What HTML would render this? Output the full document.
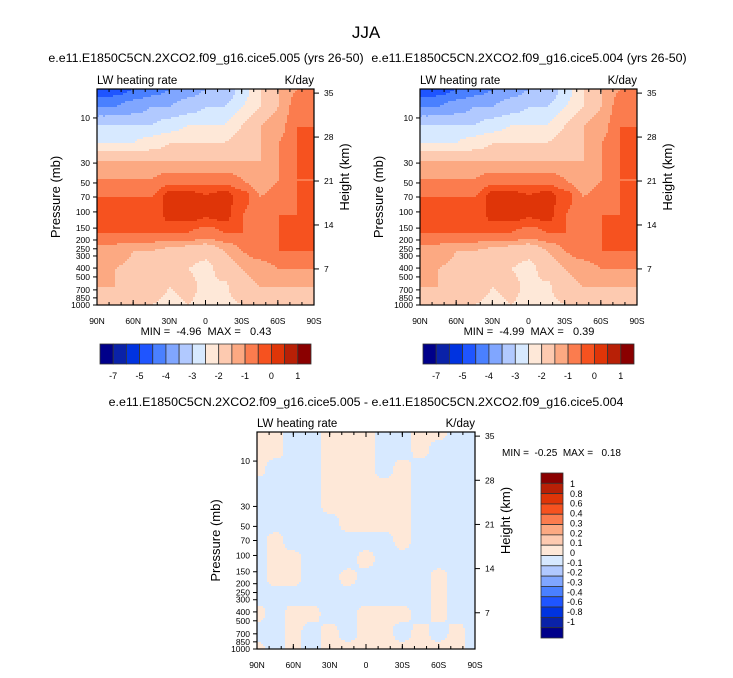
<!DOCTYPE html>
<html><head><meta charset="utf-8">
<style>
body{margin:0;background:#fff;font-family:"Liberation Sans",sans-serif;}
svg text{font-family:"Liberation Sans",sans-serif;fill:#000;}
</style></head>
<body>
<svg id="chart" width="733" height="673" viewBox="0 0 733 673" xmlns="http://www.w3.org/2000/svg">
<rect width="733" height="673" fill="#fff"/>
<text x="366" y="38" font-size="17" text-anchor="middle">JJA</text>
<g id="root"></g>
</svg>
<script>
// ---- data ----
const latLabels = ["90N","60N","30N","0","30S","60S","90S"];
const presLabels = ["10","30","50","70","100","150","200","250","300","400","500","700","850","1000"];
const presValues = [10,30,50,70,100,150,200,250,300,400,500,700,850,1000];
const heightLabels = ["35","28","21","14","7"];
const heightValues = [35,28,21,14,7];
const gridLat = [90,75,60,45,30,15,0,-15,-30,-45,-60,-75,-90];
const gridRowFrac = [0,0.083,0.167,0.25,0.333,0.417,0.5,0.583,0.667,0.75,0.833,0.917,1];
// level-index field (colour band index, fractional) case 005
const lw005 = [
[3,3.5,4,4.5,5,5.5,6,6,7.5,9,10,11,11],
[5,5,5.5,6,6,6.5,7,7,8,9,10,11.5,12],
[7,7,7,7,7.5,8,8,8,9,10,10.5,12,12],
[8,8,8,8.5,9,9,9,9,9.5,10,11,12,12],
[10,10,10,10,10,10,10,10,10,10,11,12,12],
[11,11,11,11,11.5,11.5,11.5,11.5,11,10,11,12,12],
[12,12,12,12,13.4,13.5,13.1,13.5,12.5,11,11.5,12,12],
[12,12,12,12,13.4,13.5,13.1,13.4,12,11.2,12,12,12],
[12,12,12,12,12,12,11.5,12,12,12,12,12,12],
[10.5,10.5,10,10,9.8,9.5,9.2,10,11,11.5,12,12,12],
[10,10,9.8,9.5,9.2,9,8.8,9.3,10,10.5,11,11,11],
[10,10,9.8,9.5,9,9.2,8.8,8.9,9.5,10,10,10,10],
[9.5,9.5,9.2,9,8.8,9,8.8,8.8,9,9.2,9.3,9.5,9.5]];
const lw004 = [
[3,3.5,4,4.5,5,5.5,6,6,7.5,9,10,11,11],
[5,5,5.5,6,6,6.5,7,7,8,9,10,11.5,12],
[7,7,7,7,7.5,8,8,8,9,10,10.5,12,12],
[8,8,8,8.5,9,9,9,9,9.5,10,11,12,12],
[10,10,10,10,10,10,10,10,10,10,11,12,12],
[11,11,11,11,11.5,11.5,11.5,11.5,11,10,11,12,12],
[12,12,12,12,13.4,13.5,13.1,13.5,12.5,11,11.5,12,12],
[12,12,12,12,13.4,13.5,13.1,13.4,12,11.2,12,12,12],
[12,12,12,12,12,12,11.5,12,12,12,12,12,12],
[10.5,10.5,10,10,9.8,9.5,9.2,10,11,11.5,12,12,12],
[10,10,9.8,9.5,9.2,9,8.8,9.3,10,10.5,11,11,11],
[10,10,9.8,9.5,9,9.2,8.8,8.9,9.5,10,10,10,10],
[9.5,9.5,9.2,9,8.8,9,8.8,8.8,9,9.2,9.3,9.5,9.5]];
// difference field (K/day)
const diffField = [
[.05,.05,-.06,-.06,.05,.05,.05,-.06,-.06,.05,.05,-.06,-.06],
[.05,.05,-.06,-.06,.05,.05,.05,-.06,-.06,.05,-.06,-.06,-.06],
[.05,-.06,-.06,-.06,.05,.05,.05,-.06,.05,-.06,-.06,-.06,-.06],
[-.06,-.06,-.06,-.06,.05,.05,.05,.05,.05,-.06,-.06,-.06,-.06],
[-.06,-.06,-.06,-.06,.05,.05,.05,.05,.05,-.06,-.06,-.06,-.06],
[-.06,-.06,-.06,-.06,-.06,.05,.05,.05,.05,-.06,-.06,-.06,-.06],
[-.06,.05,-.06,-.06,-.06,-.06,-.06,-.06,.05,-.06,-.06,-.06,-.06],
[-.06,.05,.05,-.06,-.06,-.06,.05,-.06,-.06,-.06,-.06,-.06,-.06],
[-.06,.05,.05,-.06,-.06,.05,-.06,-.06,-.06,-.06,.05,-.06,-.06],
[-.06,-.06,-.06,-.06,-.06,-.06,-.06,-.06,-.06,-.06,.05,-.06,-.06],
[.05,-.06,.05,.05,-.06,-.06,.05,.05,.05,-.06,.05,-.06,-.06],
[-.06,-.06,.05,-.06,.05,-.06,.05,.05,-.06,.05,-.06,.05,-.06],
[.05,-.06,.05,-.06,.05,.05,.05,.05,.05,.05,.05,.05,-.06]];
const topCbarLabels = ["-7","-5","-4","-3","-2","-1","0","1"];
const diffLevels = [-1,-0.8,-0.6,-0.4,-0.3,-0.2,-0.1,0,0.1,0.2,0.3,0.4,0.6,0.8,1];
const diffLabels = ["1","0.8","0.6","0.4","0.3","0.2","0.1","0","-0.1","-0.2","-0.3","-0.4","-0.6","-0.8","-1"];
const palette = ["#00008a","#0a22a8","#0033e0","#1f55ff","#4a80ff","#80a6ff","#b1c9ff","#d7e9ff","#fee8d8","#fdcab0","#fca982","#fb7c4e","#f6521f","#df3508","#b82006","#8a0000"];

const NS="http://www.w3.org/2000/svg";
const root=document.getElementById('root');
function el(tag,attrs,parent){const e=document.createElementNS(NS,tag);for(const k in attrs)e.setAttribute(k,attrs[k]);(parent||root).appendChild(e);return e;}
function txt(x,y,s,size,anchor,parent,extra){const t=el('text',Object.assign({x:x,y:y,'font-size':size,'text-anchor':anchor||'middle'},extra||{}),parent);t.textContent=s;return t;}

const pAnchors=[[2,0],[10,0.134],[30,0.343],[50,0.435],[70,0.5],[100,0.569],[150,0.644],[200,0.699],[300,0.773],[400,0.829],[500,0.87],[700,0.93],[850,0.967],[1000,1]];
function pFrac(p){for(let i=1;i<pAnchors.length;i++){if(p<=pAnchors[i][0]){const a=pAnchors[i-1],b=pAnchors[i];const t=(Math.log(p)-Math.log(a[0]))/(Math.log(b[0])-Math.log(a[0]));return a[1]+t*(b[1]-a[1]);}}return 1;}
function hFrac(h){return 0.019+(35-h)*(0.2035/7);}

function sm(t){return t*t*(3-2*t);}
function sample(grid,fx,fy){
  const nc=gridLat.length-1;const cx=fx*nc;let i=Math.min(Math.floor(cx),nc-1);const tx=sm(cx-i);
  let j=0;while(j<gridRowFrac.length-2&&fy>gridRowFrac[j+1])j++;
  const ty=sm((fy-gridRowFrac[j])/(gridRowFrac[j+1]-gridRowFrac[j]));
  const a=grid[j][i],b=grid[j][i+1],c=grid[j+1][i],d=grid[j+1][i+1];
  return (a*(1-tx)+b*tx)*(1-ty)+(c*(1-tx)+d*tx)*ty;
}

function panel(name,x0,y0,w,h,grid,colorFn){
  const g=el('g',{});
  
  
  const cells=el('g',{},g);
  
  
  const cs=2;const nx=Math.ceil(w/cs),ny=Math.ceil(h/cs);
  for(let r=0;r<ny;r++){
    let runStart=0,runCol=null;
    for(let c=0;c<=nx;c++){
      let col=null;
      if(c<nx){col=colorFn(sample(grid,(c+0.5)/nx,(r+0.5)/ny));}
      if(col!==runCol){
        if(runCol!==null){const xx=x0+runStart*cs;const ww=Math.min(c*cs,w)-runStart*cs;
          const rc=el('rect',{x:xx,y:y0+r*cs,width:ww+0.5,height:Math.min(cs,h-r*cs)+0.5,fill:runCol},cells);
          
          }
        runStart=c;runCol=col;
      }
    }
  }
  const fr=el('rect',{x:x0,y:y0,width:w,height:h,fill:'none',stroke:'#000','stroke-width':1.2},g);
  
  
  latLabels.forEach((l,i)=>{const x=x0+i*w/6;
    el('line',{x1:x,y1:y0+h,x2:x,y2:y0+h-5,stroke:'#000'},g);
    el('line',{x1:x,y1:y0,x2:x,y2:y0+5,stroke:'#000'},g);
    const t=txt(x,y0+h+19,l,8.5,'middle',g);
    
    });
  for(let i=0;i<18;i++){const x=x0+i*w/18;
    el('line',{x1:x,y1:y0+h,x2:x,y2:y0+h-3,stroke:'#000'},g);
    el('line',{x1:x,y1:y0,x2:x,y2:y0+3,stroke:'#000'},g);}
  presLabels.forEach((l,i)=>{const y=y0+pFrac(presValues[i])*h;
    el('line',{x1:x0,y1:y,x2:x0-4,y2:y,stroke:'#000'},g);
    const t=txt(x0-7,y+3,l,8.5,'end',g);
    
    });
  heightLabels.forEach((l,i)=>{const y=y0+hFrac(heightValues[i])*h;
    el('line',{x1:x0+w,y1:y,x2:x0+w+5,y2:y,stroke:'#000'},g);
    const t=txt(x0+w+10,y+3,l,8.5,'start',g);
    
    });
  const l1=txt(x0,y0-5,'LW heating rate',11.5,'start',g);
  
  
  const l2=txt(x0+w,y0-5,'K/day',11.5,'end',g);
  
  
  const yt=txt(0,0,'Pressure (mb)',13,'middle',g,{transform:`translate(${x0-37},${y0+h/2}) rotate(-90)`});
  
  
  const ht=txt(0,0,'Height (km)',13,'middle',g,{transform:`translate(${x0+w+35},${y0+h/2-20}) rotate(-90)`});
  
  
  return g;
}
function idxColor(v){let i=Math.floor(v);i=Math.max(0,Math.min(15,i));return palette[i];}
function diffColor(v){let i=0;while(i<diffLevels.length&&v>=diffLevels[i])i++;return palette[i];}

panel('panel-case-005',97,89,217,216,lw005,idxColor);
panel('panel-case-004',420,89,217,216,lw004,idxColor);
panel('panel-difference',257,432,218,217,diffField,diffColor);

const S='\u00a0';
let t;
t=txt(206,62,'e.e11.E1850C5CN.2XCO2.f09_g16.cice5.005 (yrs 26-50)',12.4,'middle');

t=txt(529,62,'e.e11.E1850C5CN.2XCO2.f09_g16.cice5.004 (yrs 26-50)',12.4,'middle');

t=txt(366,406,'e.e11.E1850C5CN.2XCO2.f09_g16.cice5.005 - e.e11.E1850C5CN.2XCO2.f09_g16.cice5.004',12.4,'middle');

t=txt(206,335,'MIN ='+S+S+'-4.96'+S+S+'MAX ='+S+S+S+'0.43',11,'middle');

t=txt(529,335,'MIN ='+S+S+'-4.99'+S+S+'MAX ='+S+S+S+'0.39',11,'middle');

t=txt(502,456,'MIN ='+S+S+'-0.25'+S+S+'MAX ='+S+S+S+'0.18',10,'start');


function hbar(name,x0){
  const g=el('g',{});
  
  
  const bw=211/16;
  palette.forEach((c,i)=>{const r=el('rect',{x:x0+i*bw,y:344,width:bw,height:20,fill:c,stroke:'#333','stroke-width':0.8},g);
    });
  topCbarLabels.forEach((l,i)=>{const tt=txt(x0+(2*i+1)*bw,379,l,9,'middle',g);
    });
}
hbar('colorbar-case-005',100);
hbar('colorbar-case-004',423);
(function(){
  const g=el('g',{});
  
  
  const bh=165/16;
  for(let i=0;i<16;i++){const r=el('rect',{x:541,y:473+i*bh,width:22,height:bh,fill:palette[15-i],stroke:'#333','stroke-width':0.8},g);
    }
  diffLabels.forEach((l,i)=>{const tt=txt(l.startsWith('-')?567:570,487+i*9.85,l,9,'start',g);
    });
})();
</script>
</body></html>
